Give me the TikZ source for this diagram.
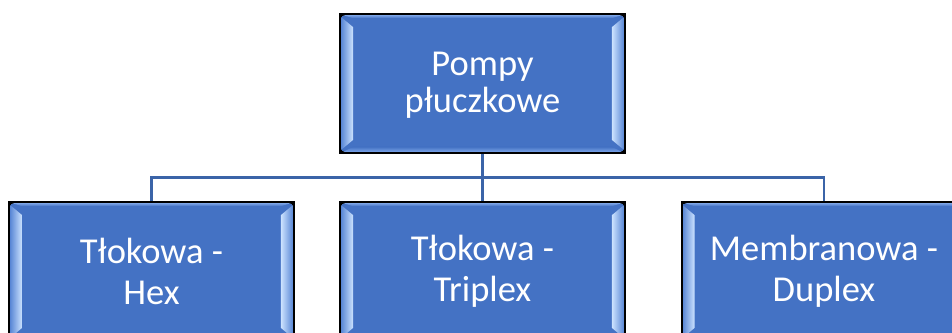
\documentclass[tikz,border=0pt]{standalone}
\usepackage{fontspec}
\setmainfont{Carlito}
\usetikzlibrary{calc,shadows}
\definecolor{boxfill}{HTML}{4472C4}
\definecolor{bevlo}{HTML}{5A88D6}
\definecolor{bevhi}{HTML}{CDE3FF}
\definecolor{bevbot}{HTML}{7AA3E6}
\definecolor{linkcol}{HTML}{3B64A8}
\tikzset{
  orgbox/.style={draw=black, line width=1.6pt, fill=boxfill, text=white,
    minimum width=283pt, minimum height=137pt, inner sep=0pt, align=center,
    drop shadow={shadow xshift=1.2pt, shadow yshift=-1.2pt, opacity=0.45, fill=black}},
  toptext/.style={font=\fontsize{36.5}{37}\selectfont},
  subtext/.style={font=\fontsize{36.5}{41}\selectfont},
  link/.style={draw=linkcol, line width=2.2pt}
}
\newcommand\bevelfx[1]{%
  \shade[left color=bevlo, right color=bevhi]
    ($(#1.north west)+(1,3)$) -- ($(#1.north west)+(13,13)$) --
    ($(#1.south west)+(13,-13)$) -- ($(#1.south west)+(1,-3)$) -- cycle;
  \shade[left color=bevhi, right color=bevlo]
    ($(#1.north east)+(-13,13)$) -- ($(#1.north east)+(-1,3)$) --
    ($(#1.south east)+(-1,-3)$) -- ($(#1.south east)+(-13,-13)$) -- cycle;
  \shade[top color=boxfill, bottom color=bevbot]
    ($(#1.south west)+(13,-6)$) -- ($(#1.south east)+(-13,-6)$) --
    ($(#1.south east)+(-3,-1)$) -- ($(#1.south west)+(3,-1)$) -- cycle;
  \shade[top color=bevbot, bottom color=boxfill]
    ($(#1.north west)+(3,1)$) -- ($(#1.north east)+(-3,1)$) --
    ($(#1.north east)+(-13,4)$) -- ($(#1.north west)+(13,4)$) -- cycle;
  \draw[black, line width=1.6pt] (#1.north west) rectangle (#1.south east);
}
\begin{document}
\begin{tikzpicture}[x=1pt, y=-1pt]
  \useasboundingbox (0,0) rectangle (952,332);
  \clip (0,0) rectangle (952,332);
  \coordinate (bus) at (482.5,177.5);
  \node[orgbox] (top) at (482.5,83.5) {};
  \node[orgbox] (hex) at (151.5,271.5) {};
  \node[orgbox] (tri) at (482.5,271.5) {};
  \node[orgbox] (mem) at (824,271.5) {};
  \draw[link] (hex.north) -- (hex.north |- bus) -- (mem.north |- bus) -- (mem.north);
  \draw[link] (top.south) -- (tri.north);
  \bevelfx{top}
  \bevelfx{hex}
  \bevelfx{tri}
  \bevelfx{mem}
  \node[toptext, text=white, align=center] (toplbl) at ($(top.center)+(0,1.5)$) {Pompy\\płuczkowe};
  \node[subtext, text=white, align=center] (hexlbl) at ($(hex.center)+(0,0)$) {Tłokowa -\\Hex};
  \node[subtext, text=white, align=center] (trilbl) at ($(tri.center)+(0,0)$) {Tłokowa -\\Triplex};
  \node[subtext, text=white, align=center] (memlbl) at ($(mem.center)+(0,0)$) {Membranowa -\\Duplex};
\end{tikzpicture}
\end{document}
